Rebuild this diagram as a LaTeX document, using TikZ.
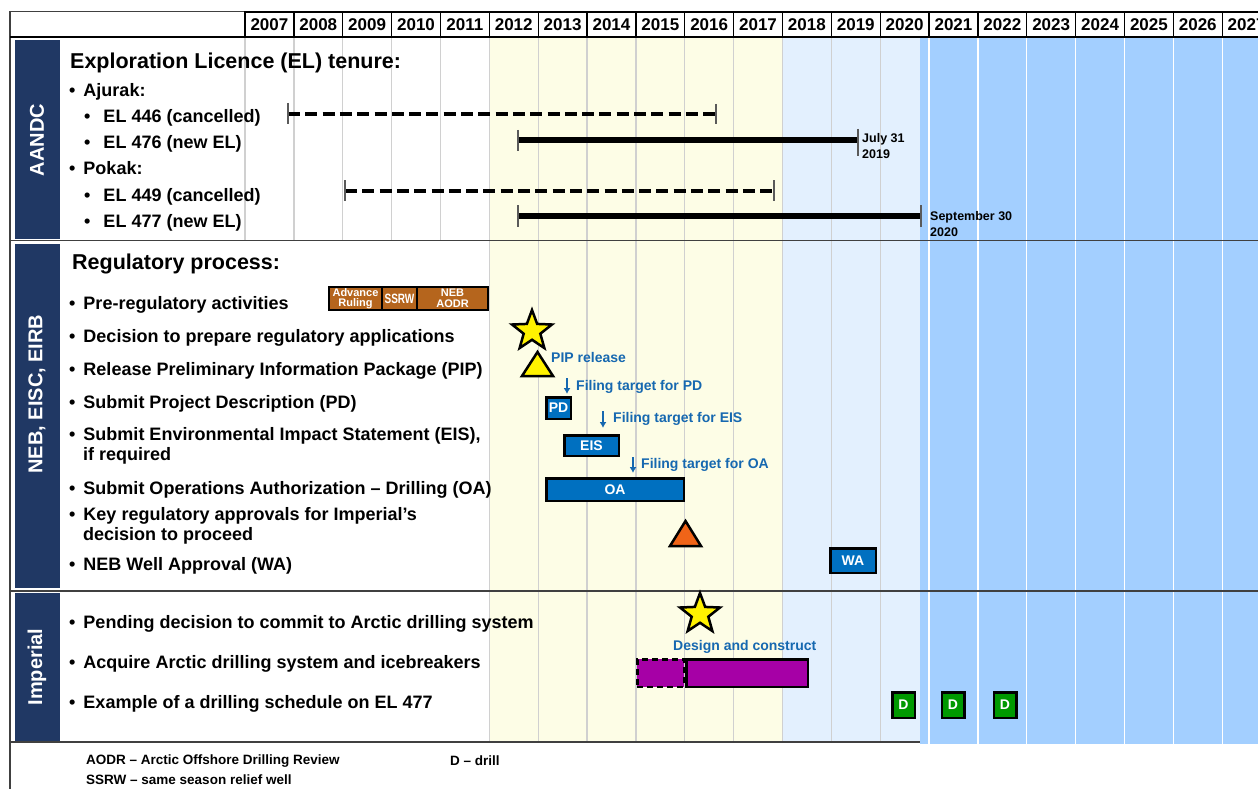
\documentclass[tikz,border=0pt]{standalone}
\usepackage{fontspec}
\setmainfont{Liberation Sans}
\usepackage{tikz}
\usetikzlibrary{positioning}
\usetikzlibrary{shapes.geometric}
\usetikzlibrary{arrows.meta}
\usepackage{xcolor}

\definecolor{navy}{RGB}{32,56,100}
\definecolor{paleyellow}{RGB}{253,253,230}
\definecolor{paleblue}{RGB}{227,240,254}
\definecolor{skyblue}{RGB}{163,207,255}
\definecolor{boxblue}{RGB}{0,112,192}
\definecolor{noteblue}{RGB}{22,104,176}
\definecolor{rust}{RGB}{181,101,29}
\definecolor{plum}{RGB}{166,0,166}
\definecolor{drillgreen}{RGB}{0,153,0}
\definecolor{flame}{RGB}{240,100,24}
\definecolor{gridgray}{RGB}{208,208,208}
\definecolor{tickgray}{RGB}{90,90,90}

\newcommand{\fsz}[1]{\fontsize{#1}{#1}\selectfont}
\newcommand{\bul}{•\hspace{8pt}}
\newcommand{\subbul}{•\hspace{13pt}}

\begin{document}
\begin{tikzpicture}[x=1pt, y=-1pt, >={Latex[length=6pt,width=7pt]},
		item/.style={anchor=base west, inner sep=0pt, font=\bfseries\fsz{18}},
		heading/.style={anchor=base west, inner sep=0pt, font=\bfseries\fsz{21.5}},
		yearcell/.style={draw=black, line width=1.3pt, minimum width=48.86pt, minimum height=25pt, inner sep=0pt, font=\bfseries\fsz{17}},
		sidetext/.style={rotate=90, text=white, inner sep=0pt, font=\bfseries\fsz{20}},
		gridline/.style={gridgray, line width=1.3pt},
		frameline/.style={black!75, line width=1.3pt},
		tenure/.style={black, line width=6.5pt},
		cancelled/.style={black, line width=4pt, dash pattern=on 12pt off 5.3pt},
		endtick/.style={tickgray, line width=1.2pt},
		datelabel/.style={anchor=north west, align=left, inner sep=0pt, font=\bfseries\fontsize{12.5}{16}\selectfont},
		note/.style={anchor=base west, inner sep=0pt, text=noteblue, font=\bfseries\fsz{14}},
		filearrow/.style={->, noteblue, line width=2pt},
		bluebox/.style={draw=black, line width=2.5pt, fill=boxblue, text=white, inner sep=0pt, font=\bfseries\fsz{14}},
		rustbox/.style={draw=black, line width=2pt, fill=rust, text=white, align=center, minimum height=23pt, inner sep=0pt, font=\bfseries\fontsize{11}{10.5}\selectfont},
		purplebox/.style={draw=black, line width=2.5pt, fill=plum, minimum height=27.5pt},
		drillbox/.style={draw=black, line width=2.5pt, fill=drillgreen, text=white, minimum width=22.5pt, minimum height=25.5pt, inner sep=0pt, font=\bfseries\fsz{14}},
		bigstar/.style={star, star points=5, star point ratio=2.4, minimum size=42pt, inner sep=0pt, draw=black, line width=2.5pt, fill=yellow},
		milestone/.style={draw=black, line width=2.5pt, line join=miter},
		keytext/.style={anchor=base west, inner sep=0pt, font=\bfseries\fsz{13.5}}]
	\useasboundingbox (0,0) rectangle (1258,789);
	\fill[paleyellow] (489.3,37) rectangle (782.5,742);
	\fill[paleblue] (782.5,37) rectangle (920,742);
	\fill[skyblue] (920,37) rectangle (1258,744);
	\foreach \yr [evaluate=\yr as \gx using 245+(\yr-2007)*48.86] in {2007,...,2011}
		\draw[gridline] (\gx,37) -- (\gx,240);
	\foreach \yr [evaluate=\yr as \gx using 245+(\yr-2007)*48.86] in {2012,...,2020}
		\draw[gridline] (\gx,37) -- (\gx,742);
	\foreach \yr [evaluate=\yr as \gx using 245+(\yr-2007)*48.86] in {2021,...,2027}
		\draw[white, line width=1.3pt] (\gx,37) -- (\gx,744);
	\draw[frameline] (10,240.5) -- (1258,240.5);
	\draw[frameline] (10,591) -- (1258,591);
	\draw[frameline] (10,742) -- (920,742);
	\draw[frameline] (10,789) -- (10,11.5) -- (1258,11.5);
	\draw[frameline, black] (10,37) -- (1258,37);
	\foreach \yr [evaluate=\yr as \gx using 245+(\yr-2007)*48.86] in {2007,...,2027}
		\node[yearcell] (y\yr) at (\gx+24.43,24.5) {\yr};
	\fill[navy] (15,40) rectangle (60,239);
	\fill[navy] (15,244) rectangle (60,588);
	\fill[navy] (15,593) rectangle (60,741);
	\node[sidetext] (aandc) at (37,140) {AANDC};
	\node[sidetext] (neb) at (37,394) {NEB, EISC, EIRB};
	\node[sidetext] (imperial) at (37,667) {Imperial};

	\node[heading] (eltitle) at (70,69) {Exploration Licence (EL) tenure:};
	\node[item] (ajurak) at (69,97) {\bul Ajurak:};
	\node[item] (el446) at (84,123) {\subbul EL 446 (cancelled)};
	\node[item] (el476) at (84,149) {\subbul EL 476 (new EL)};
	\node[item] (pokak) at (69,175) {\bul Pokak:};
	\node[item] (el449) at (84,201) {\subbul EL 449 (cancelled)};
	\node[item] (el477) at (84,227) {\subbul EL 477 (new EL)};
	\draw[cancelled] (288,114.5) -- (716,114.5);
	\draw[endtick] (288,103) -- (288,124);
	\draw[endtick] (716,104) -- (716,124);
	\draw[tenure] (518,140) -- (858,140);
	\draw[endtick] (518,130) -- (518,151);
	\draw[endtick] (858,129) -- (858,156);
	\draw[cancelled] (345,190.5) -- (774,190.5);
	\draw[endtick] (345,180) -- (345,201);
	\draw[endtick] (774,180) -- (774,201);
	\draw[tenure] (518,216) -- (921,216);
	\draw[endtick] (518,205) -- (518,227);
	\draw[endtick] (921,205) -- (921,227);
	\node[datelabel] (julyend) at (862,133) {July 31\\2019};
	\node[datelabel] (septend) at (930,211) {September 30\\2020};

	\node[heading] (regtitle) at (72,269) {Regulatory process:};
	\node[item] (prereg) at (69,309) {\bul Pre-regulatory activities};
	\node[item] (decideitem) at (69,342) {\bul Decision to prepare regulatory applications};
	\node[item] (pipitem) at (69,375) {\bul Release Preliminary Information Package (PIP)};
	\node[item] (pditem) at (69,408) {\bul Submit Project Description (PD)};
	\node[item] (eisitem) at (69,440) {\bul Submit Environmental Impact Statement (EIS),};
	\node[item] (eisif) at (83,460) {if required};
	\node[item] (oaitem) at (69,494) {\bul Submit Operations Authorization – Drilling (OA)};
	\node[item] (keyitem) at (69,520) {\bul Key regulatory approvals for Imperial’s};
	\node[item] (keyrest) at (83,540) {decision to proceed};
	\node[item] (waitem) at (69,570) {\bul NEB Well Approval (WA)};
	\node[rustbox, minimum width=53pt] (advance) at (355.5,298.5) {Advance\\Ruling};
	\node[rustbox, minimum width=35pt, right=-2pt of advance] (ssrw) {\fsz{13.5}\scalebox{0.74}[1]{SSRW}};
	\node[rustbox, minimum width=71pt, right=-2pt of ssrw] (aodr) {NEB\\AODR};
	\node[bigstar] (decision) at (532,331) {};
	\draw[milestone, fill=yellow] (522,376) -- (537.5,352) -- (553,376) -- cycle;
	\node[note] (piprel) at (551,362) {PIP release};
	\node[bluebox, minimum width=24.5pt, minimum height=21.5pt] (pd) at (558.5,408) {PD};
	\node[bluebox, minimum width=54.5pt, minimum height=20.5pt] (eis) at (591.5,445.5) {EIS};
	\node[bluebox, minimum width=137.5pt, minimum height=22.5pt] (oa) at (615,489.5) {OA};
	\coordinate (pdfile) at (567,378);
	\coordinate (eisfile) at (603,411);
	\coordinate (oafile) at (633,457);
	\draw[filearrow, shorten >=2pt] (pdfile) -- (pdfile |- pd.north);
	\draw[filearrow, shorten >=6pt] (eisfile) -- (eisfile |- eis.north);
	\draw[filearrow, shorten >=4pt] (oafile) -- (oafile |- oa.north);
	\node[note] (pdnote) at (576,390) {Filing target for PD};
	\node[note] (eisnote) at (613,422) {Filing target for EIS};
	\node[note] (oanote) at (641,468) {Filing target for OA};
	\draw[milestone, fill=flame] (670,546) -- (685.5,521) -- (701,546) -- cycle;
	\node[bluebox, minimum width=45.5pt, minimum height=24.5pt] (wa) at (853,560.5) {WA};

	\node[item] (pending) at (69,628) {\bul Pending decision to commit to Arctic drilling system};
	\node[item] (acquire) at (69,668) {\bul Acquire Arctic drilling system and icebreakers};
	\node[item] (schedule) at (69,708) {\bul Example of a drilling schedule on EL 477};
	\node[bigstar] (commit) at (700,614) {};
	\node[note] (design) at (673,650) {Design and construct};
	\node[purplebox, dash pattern=on 6pt off 4pt, minimum width=46.5pt] (option) at (660.5,673) {};
	\node[purplebox, minimum width=121.5pt] (build) at (747,673) {};
	\foreach \dx [count=\k] in {903.5,953,1005}
		\node[drillbox] (drill\k) at (\dx,705) {D};

	\node[keytext] (aodrkey) at (86,764) {AODR – Arctic Offshore Drilling Review};
	\node[keytext] (ssrwkey) at (86,784) {SSRW – same season relief well};
	\node[keytext] (drillkey) at (450,765) {D – drill};
\end{tikzpicture}
\end{document}
